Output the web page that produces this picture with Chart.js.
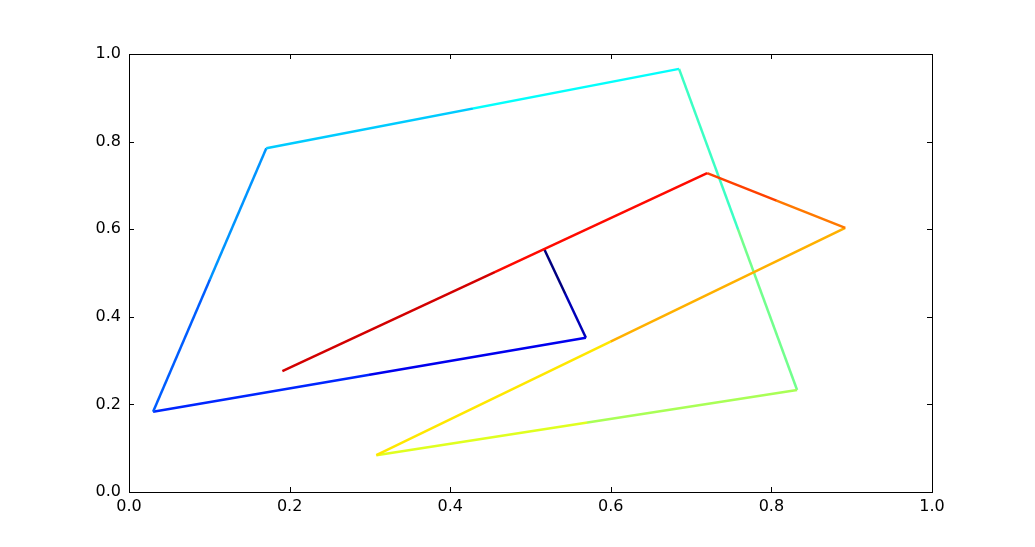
<!DOCTYPE html>
<html>
<head>
<meta charset="utf-8">
<script src="https://cdn.jsdelivr.net/npm/chart.js@4/dist/chart.umd.min.js"></script>
<style>
  html, body { margin: 0; padding: 0; background: #fff; }
  #wrap { width: 1035px; height: 547px; }
</style>
</head>
<body>
<div id="wrap"><canvas id="c" width="1035" height="547"></canvas></div>
<script>
// path points, in drawing order
const xs = [0.517, 0.569, 0.030, 0.171, 0.685, 0.832, 0.308, 0.892, 0.720, 0.191];
const ys = [0.555, 0.352, 0.183, 0.785, 0.966, 0.233, 0.084, 0.603, 0.728, 0.276];
const tickVals = [0.0, 0.2, 0.4, 0.6, 0.8, 1.0];

function clamp(v) { return Math.max(0, Math.min(1, v)); }

// jet colormap
function jet(t) {
    let r = clamp(Math.min(4 * t - 1.5, -4 * t + 4.5));
    let g = clamp(Math.min(4 * t - 0.5, -4 * t + 3.5));
    let b = clamp(Math.min(4 * t + 0.5, -4 * t + 2.5));
    return "rgb(" + Math.round(r * 255) + "," + Math.round(g * 255) + "," + Math.round(b * 255) + ")";
}

let points = xs.map((x, i) => ({ x: x, y: ys[i] }));
let canvas = document.getElementById("c");
let g2d = canvas.getContext("2d");

// each segment is drawn as two halves, each half one flat jet colour
function segColor(ctx) {
    let p0 = ctx.p0, p1 = ctx.p1;
    let i = ctx.p0DataIndex;
    let c0 = jet((2 * i) / 18.5);
    let c1 = jet((2 * i + 1) / 18.5);
    let g = g2d.createLinearGradient(p0.x, p0.y, p1.x, p1.y);
    g.addColorStop(0, c0);
    g.addColorStop(0.5, c0);
    g.addColorStop(0.5, c1);
    g.addColorStop(1, c1);
    return g;
}

// frame plus inward ticks on all four sides
const framePlugin = {
    id: "frame",
    afterDraw(c) {
        let a = c.chartArea;
        let ctx = c.ctx;
        let sx = c.scales.x, sy = c.scales.y;
        ctx.save();
        ctx.strokeStyle = "#000";
        ctx.lineWidth = 1;
        ctx.beginPath();
        tickVals.forEach(v => {
            let px = Math.round(sx.getPixelForValue(v)) + 0.5;
            ctx.moveTo(px, a.bottom); ctx.lineTo(px, a.bottom - 5);
            ctx.moveTo(px, a.top); ctx.lineTo(px, a.top + 5);
            let py = Math.round(sy.getPixelForValue(v)) + 0.5;
            ctx.moveTo(a.left, py); ctx.lineTo(a.left + 5, py);
            ctx.moveTo(a.right, py); ctx.lineTo(a.right - 5, py);
        });
        ctx.stroke();
        ctx.strokeRect(Math.round(a.left) + 0.5, Math.round(a.top) + 0.5,
            Math.round(a.right - a.left), Math.round(a.bottom - a.top));
        ctx.restore();
    }
};

let chart = new Chart(canvas, {
    type: "line",
    data: {
        datasets: [
            {
                data: points,
                borderWidth: 2.5,
                pointRadius: 0,
                tension: 0,
                fill: false,
                segment: {
                    borderColor: segColor
                }
            }
        ]
    },
    options: {
        responsive: false,
        animation: false,
        events: [],
        layout: {
            padding: { top: 54, right: 103, left: 0, bottom: 0 }
        },
        scales: {
            x: {
                type: "linear",
                min: 0,
                max: 1,
                afterFit: s => { s.height = 55; },
                afterBuildTicks: s => { s.ticks = tickVals.map(v => ({ value: v })); },
                grid: { display: false },
                border: { display: false },
                ticks: {
                    color: "#000",
                    padding: -3,
                    maxRotation: 0,
                    font: { family: "DejaVu Sans", size: 16 },
                    callback: v => v.toFixed(1)
                }
            },
            y: {
                type: "linear",
                min: 0,
                max: 1,
                afterFit: s => { s.width = 129; },
                afterBuildTicks: s => { s.ticks = tickVals.map(v => ({ value: v })); },
                grid: { display: false },
                border: { display: false },
                ticks: {
                    color: "#000",
                    padding: 0,
                    font: { family: "DejaVu Sans", size: 16 },
                    callback: v => v.toFixed(1)
                }
            }
        },
        plugins: {
            legend: { display: false },
            tooltip: { enabled: false }
        }
    },
    plugins: [framePlugin]
});
</script>
</body>
</html>
